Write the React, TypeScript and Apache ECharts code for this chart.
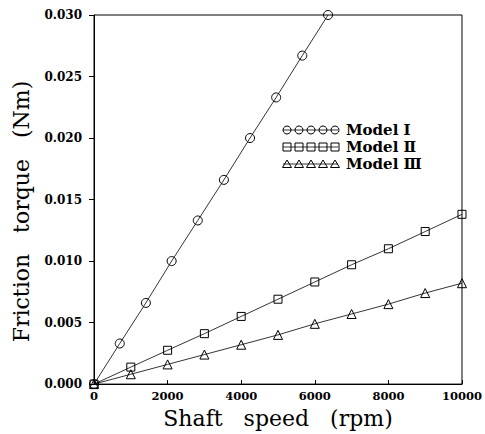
import React, { useEffect, useRef } from "react";
import * as echarts from "echarts";

// Model I: shaft speed (rpm) and friction torque (Nm)
const speedsI = [0, 700, 1410, 2110, 2820, 3530, 4240, 4950, 5660, 6360];
const torqueI = [0, 0.0033, 0.0066, 0.01, 0.0133, 0.0166, 0.02, 0.0233, 0.0267, 0.03];

// Models II and III share speeds
const speedsII = [0, 1000, 2000, 3000, 4000, 5000, 6000, 7000, 8000, 9000, 10000];
const torqueII = [0, 0.00138, 0.00275, 0.0041, 0.0055, 0.0069, 0.0083, 0.0097, 0.011, 0.0124, 0.0138];
const torqueIII = [0, 0.0008, 0.0016, 0.0024, 0.0032, 0.004, 0.0049, 0.0057, 0.0065, 0.0074, 0.0082];

const seriesNames = ["Model Ⅰ", "Model Ⅱ", "Model Ⅲ"];
const seriesSymbols = ["circle", "rect", "triangle"];

const xAxisTitle = "Shaft   speed   (rpm)";
const yAxisTitle = "Friction   torque   (Nm)";

const SERIF = "'DejaVu Serif', 'Liberation Serif', serif";

function zip(xs: number[], ys: number[]) {
  return xs.map((x, i) => [x, ys[i]]);
}

function legendGraphic() {
  const elements: any[] = [];
  const x0 = 283;
  const x1 = 338;
  const rowY = [130, 147, 164];
  const markerX = [287, 299, 311, 323, 335];
  rowY.forEach((y, r) => {
    elements.push({
      type: "line",
      shape: { x1: x0, y1: y, x2: x1, y2: y },
      style: { stroke: "#000", lineWidth: 0.8 },
      silent: true,
    });
    markerX.forEach((mx) => {
      const st = { fill: "rgba(0,0,0,0)", stroke: "#000", lineWidth: 1 };
      if (r === 0) {
        elements.push({ type: "circle", shape: { cx: mx, cy: y, r: 4 }, style: st });
      } else if (r === 1) {
        elements.push({ type: "rect", shape: { x: mx - 4, y: y - 4, width: 8, height: 8 }, style: st });
      } else {
        elements.push({
          type: "polygon",
          shape: { points: [[mx, y - 4], [mx + 4.5, y + 3.5], [mx - 4.5, y + 3.5]] },
          style: st,
        });
      }
    });
    elements.push({
      type: "text",
      x: 346,
      y: y,
      style: {
        text: seriesNames[r],
        fill: "#000",
        font: `bold 15px ${SERIF}`,
        verticalAlign: "middle",
        align: "left",
      },
    });
  });
  return elements;
}

export default function App() {
  const ref = useRef<HTMLDivElement>(null);

  useEffect(() => {
    if (!ref.current) return;
    const chart = echarts.init(ref.current, undefined, { renderer: "svg" });
    const dataSets = [zip(speedsI, torqueI), zip(speedsII, torqueII), zip(speedsII, torqueIII)];
    const sizes = [9, 8, 9];
    chart.setOption({
      animation: false,
      backgroundColor: "#fff",
      grid: {
        left: 94,
        right: 19,
        top: 15,
        bottom: 48,
        show: true,
        borderColor: "#000",
        borderWidth: 1,
        backgroundColor: "transparent",
      },
      xAxis: {
        type: "value",
        min: 0,
        max: 10000,
        interval: 2000,
        name: xAxisTitle,
        nameLocation: "middle",
        nameGap: 21,
        nameTextStyle: { fontFamily: SERIF, fontSize: 22, color: "#000" },
        axisLine: { show: true, lineStyle: { color: "#000", width: 1 } },
        axisTick: { show: true, inside: true, length: 4, lineStyle: { color: "#000" } },
        axisLabel: {
          color: "#000",
          fontFamily: SERIF,
          fontWeight: "bold",
          fontSize: 11.5,
          margin: 6,
          formatter: (v: number) => String(v),
        },
        splitLine: { show: false },
      },
      yAxis: {
        type: "value",
        min: 0,
        max: 0.03,
        interval: 0.005,
        name: yAxisTitle,
        nameLocation: "middle",
        nameGap: 62,
        nameTextStyle: {
          fontFamily: SERIF,
          fontSize: 22,
          color: "#000",
          padding: [0, 24, 0, 0],
        },
        axisLine: { show: true, lineStyle: { color: "#000", width: 1 } },
        axisTick: { show: true, inside: false, length: 5, lineStyle: { color: "#000" } },
        axisLabel: {
          color: "#000",
          fontFamily: SERIF,
          fontWeight: "bold",
          fontSize: 12,
          margin: 12,
          formatter: (v: number) => v.toFixed(3),
        },
        splitLine: { show: false },
      },
      series: dataSets.map((d, i) => ({
        name: seriesNames[i],
        type: "line",
        data: d,
        symbol: seriesSymbols[i],
        symbolSize: sizes[i],
        showAllSymbol: true,
        lineStyle: { color: "#000", width: 0.8 },
        itemStyle: { color: "rgba(0,0,0,0)", borderColor: "#000", borderWidth: 1 },
        emphasis: { disabled: true },
        z: 3,
      })),
      graphic: legendGraphic(),
    });
    return () => chart.dispose();
  }, []);

  return (
    <div
      ref={ref}
      style={{ position: "fixed", left: 0, top: 0, width: 485, height: 434, background: "#fff" }}
    />
  );
}
